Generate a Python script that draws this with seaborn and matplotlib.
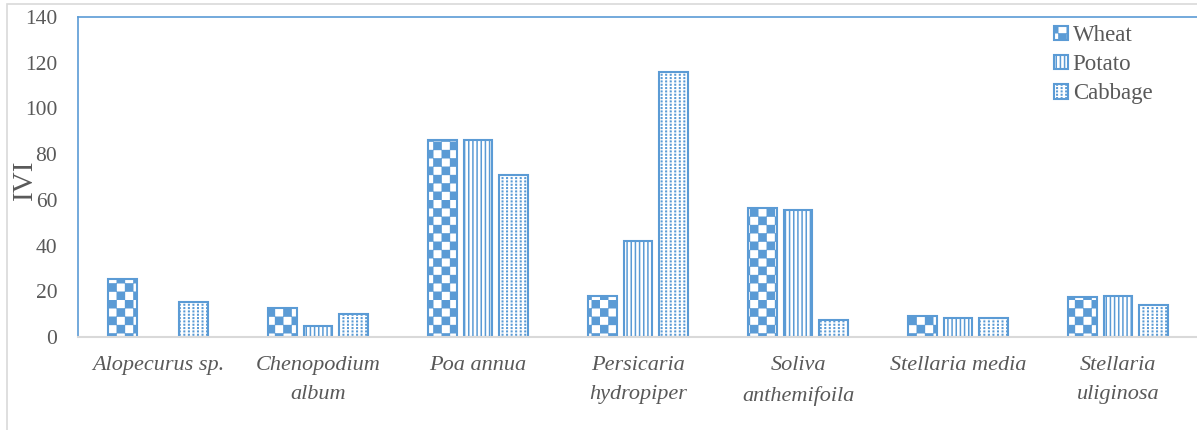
import numpy as np
import pandas as pd
import matplotlib
matplotlib.use("Agg")
import matplotlib.pyplot as plt
from matplotlib import hatch as mhatch
from matplotlib.path import Path
from matplotlib.patches import Rectangle
import seaborn as sns

# ---- data -------------------------------------------------------------
species = ["Alopecurus sp.", "Chenopodium\nalbum", "Poa annua",
           "Persicaria\nhydropiper", "Soliva\nanthemifoila",
           "Stellaria media", "Stellaria\nuliginosa"]
crops = ["Wheat", "Potato", "Cabbage"]
wheat = [25.5, 12.5, 86, 18, 56.5, 9, 17.5]
potato = [np.nan, 5, 86, 42, 55.5, 8.5, 18]
cabbage = [15.5, 10, 71, 116, 7.5, 8.5, 14]
yticks = [0, 20, 40, 60, 80, 100, 120, 140]

BLUE = "#5B9BD5"
GREY_TXT = "#595959"
GREY_LINE = "#D9D9D9"


# ---- custom fill patterns ---------------------------------------------
class CheckerHatch(mhatch.HatchPatternBase):
    """Checkerboard of filled squares, triggered by 'O'."""
    cells = 12
    inset = 0.006

    def __init__(self, hatch, density):
        self.on = "O" in hatch
        n = self.cells
        self.num_vertices = (n * n // 2) * 5 if self.on else 0

    def set_vertices_and_codes(self, vertices, codes):
        n = self.cells
        s = 1.0 / n
        d = self.inset
        k = 0
        for i in range(n):
            for j in range(n):
                if (i + j) % 2:
                    continue
                x0, y0 = i * s + d, j * s + d
                x1, y1 = (i + 1) * s - d, (j + 1) * s - d
                vertices[k:k + 5] = [(x0, y0), (x1, y0), (x1, y1),
                                     (x0, y1), (x0, y0)]
                codes[k:k + 5] = [Path.MOVETO, Path.LINETO, Path.LINETO,
                                  Path.LINETO, Path.CLOSEPOLY]
                k += 5


class DotGridHatch(mhatch.HatchPatternBase):
    """Fine grid of tiny square dots, triggered by 'o'."""
    cols = 22
    rows = 30
    size = 0.005

    def __init__(self, hatch, density):
        self.on = "o" in hatch
        self.num_vertices = self.cols * self.rows * 5 if self.on else 0

    def set_vertices_and_codes(self, vertices, codes):
        dx = 1.0 / self.cols
        dy = 1.0 / self.rows
        s = self.size
        k = 0
        for i in range(self.cols):
            for j in range(self.rows):
                x0 = i * dx + dx / 2
                y0 = j * dy + dy / 2
                vertices[k:k + 5] = [(x0, y0), (x0 + s, y0), (x0 + s, y0 + s),
                                     (x0, y0 + s), (x0, y0)]
                codes[k:k + 5] = [Path.MOVETO, Path.LINETO, Path.LINETO,
                                  Path.LINETO, Path.CLOSEPOLY]
                k += 5


mhatch._hatch_types = [t for t in mhatch._hatch_types
                       if t not in (mhatch.LargeCircles, mhatch.SmallCircles)]
mhatch._hatch_types += [CheckerHatch, DotGridHatch]

# ---- style ------------------------------------------------------------
sns.set_style("white")
plt.rcParams["font.family"] = ["Liberation Serif", "DejaVu Serif"]
plt.rcParams["hatch.linewidth"] = 1.1
plt.rcParams["hatch.color"] = BLUE

df = pd.DataFrame({
    "species": np.repeat(species, len(crops)),
    "crop": crops * len(species),
    "IVI": np.column_stack([wheat, potato, cabbage]).ravel(),
})

fig = plt.figure(figsize=(11.97, 4.30), dpi=100)
ax = fig.add_axes([78 / 1197, 1 - 337 / 430, 1120 / 1197, 320 / 430])

sns.barplot(data=df, x="species", y="IVI", hue="crop", order=species,
            hue_order=crops, palette=["white"] * 3, width=0.667, gap=0.19,
            edgecolor=BLUE, linewidth=1.5, legend=False, ax=ax, zorder=2)

patterns = {"Wheat": "O", "Potato": "||||", "Cabbage": "o"}
for cont, crop in zip(ax.containers, crops):
    for bar in cont.patches:
        bar.set_hatch(patterns[crop])
        bar.set_edgecolor(BLUE)

# ---- axes -------------------------------------------------------------
ax.set_xlim(-0.5, len(species) - 0.5)
ax.set_ylim(0, 140)
ax.set_yticks(yticks)
ax.set_xticks(range(len(species)))
ax.set_xticklabels(species, fontstyle="italic", fontsize=16, color=GREY_TXT,
                   linespacing=1.7)
ax.set_xticks(np.arange(-0.5, len(species), 1), minor=True)
ax.tick_params(axis="x", which="major", length=0, pad=14)
ax.tick_params(axis="x", which="minor", length=5, width=1.3, color=GREY_LINE)
ax.tick_params(axis="y", length=0, pad=15, labelsize=15.5, labelcolor=GREY_TXT)
ax.set_xlabel("")
ax.set_ylabel("IVI", fontsize=21, color=GREY_TXT)
ax.yaxis.set_label_coords(-0.036, 0.49)

for side in ("left", "top"):
    ax.spines[side].set_color(BLUE)
    ax.spines[side].set_linewidth(1.2)
ax.spines["bottom"].set_color(GREY_LINE)
ax.spines["bottom"].set_linewidth(1.5)
ax.spines["right"].set_visible(False)

leg = ax.legend(handles=list(ax.containers), labels=crops, frameon=False,
                loc="upper left", bbox_to_anchor=(1054 / 1197, 1 - 25 / 430),
                bbox_transform=fig.transFigure, fontsize=16.5, labelcolor=GREY_TXT,
                handlelength=0.6, handleheight=0.6, handletextpad=0.22,
                labelspacing=0.36, borderpad=0, borderaxespad=0)

# outer chart border
fig.add_artist(Rectangle((7 / 1197, -0.1), 1.2, 1.1 - 4 / 430,
                         transform=fig.transFigure, fill=False,
                         edgecolor=GREY_LINE, linewidth=1.2, zorder=-1))

fig.savefig("out.png", dpi=100)
